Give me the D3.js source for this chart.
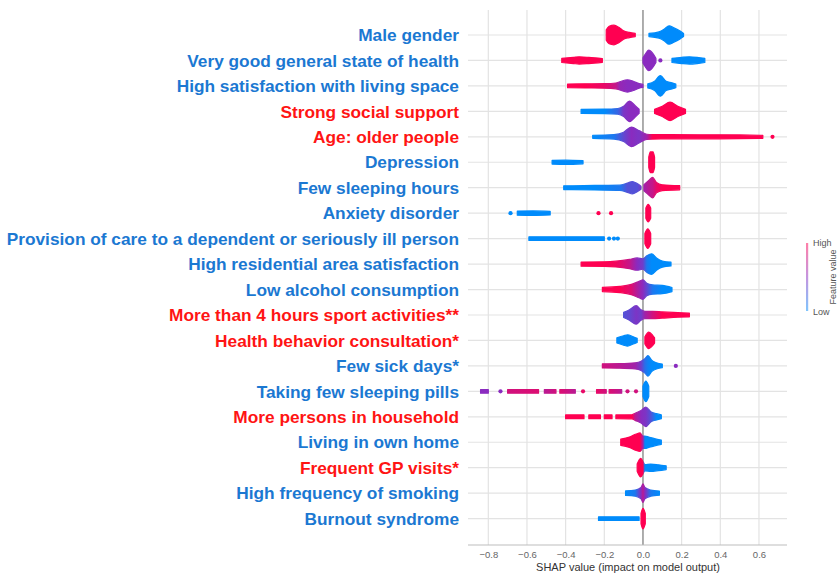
<!DOCTYPE html>
<html><head><meta charset="utf-8">
<script src="https://cdn.jsdelivr.net/npm/d3@7"></script>
<style>html,body{margin:0;padding:0;background:#fff;}</style>
</head><body>
<svg id="chart" width="837" height="576"></svg>
<script>
// ---------- DATA ----------
const features = [
  "Male gender","Very good general state of health","High satisfaction with living space",
  "Strong social support","Age: older people","Depression","Few sleeping hours","Anxiety disorder",
  "Provision of care to a dependent or seriously ill person","High residential area satisfaction",
  "Low alcohol consumption","More than 4 hours sport activities**","Health behavior consultation*",
  "Few sick days*","Taking few sleeping pills","More persons in household","Living in own home",
  "Frequent GP visits*","High frequency of smoking","Burnout syndrome"
];
// label group: "b" = blue label, "r" = red label
const labelGroup = ["b","b","b","r","r","b","b","b","b","b","b","r","r","b","b","r","b","r","b","b"];
const xTicks = [-0.8,-0.6,-0.4,-0.2,0.0,0.2,0.4,0.6];
const xDomain = [-0.905, 0.745];
// density profiles: per feature, list of clusters; knot = [SHAP value, relative density, feature value]
const swarms = [
  [[[-0.19,0.5,1],[-0.175,0.85,1],[-0.15,0.95,1],[-0.125,0.75,1],[-0.1,0.4,1],[-0.07,0.25,1],[-0.04,0.15,1]],
   [[0.031,0.15,0],[0.083,0.3,0],[0.109,0.55,0],[0.135,0.9,0],[0.16,0.7,0],[0.19,0.4,0],[0.21,0.15,0]]],
  [[[-0.42,0.2,1],[-0.36,0.3,1],[-0.33,0.35,1],[-0.28,0.3,1],[-0.21,0.18,1]],
   [[0.0,0.25,0.5],[0.015,0.7,0.5],[0.03,1,0.5],[0.05,0.7,0.5],[0.067,0.2,0.5]],
   [[0.15,0.2,0],[0.2,0.3,0],[0.24,0.35,0],[0.28,0.3,0],[0.32,0.2,0]]],
  [[[-0.39,0.18,1],[-0.3,0.2,1],[-0.2,0.22,0.9],[-0.14,0.28,0.75],[-0.12,0.4,0.55],[-0.08,0.6,0.5],[-0.05,0.45,0.5],[-0.02,0.22,0.5],[0.0,0.15,0.5]],
   [[0.025,0.2,0],[0.06,0.45,0],[0.09,1,0],[0.12,0.45,0],[0.15,0.3,0],[0.17,0.18,0]]],
  [[[-0.32,0.2,0],[-0.2,0.22,0],[-0.13,0.28,0.2],[-0.1,0.5,0.45],[-0.07,1.0,0.5],[-0.04,0.55,0.5],[-0.02,0.2,0.5]],
   [[0.06,0.2,1],[0.1,0.5,1],[0.14,0.9,1],[0.18,0.5,1],[0.22,0.2,1]]],
  [[[-0.26,0.15,0],[-0.15,0.22,0.1],[-0.1,0.45,0.35],[-0.06,0.95,0.5],[-0.02,0.6,0.45],[0.02,0.25,0.6],[0.05,0.22,1],[0.3,0.2,1],[0.5,0.18,1],[0.62,0.15,1]]],
  [[[-0.47,0.18,0],[-0.4,0.2,0],[-0.31,0.15,0]],
   [[0.03,0.5,1],[0.038,1,1],[0.052,1,1],[0.06,0.5,1]]],
  [[[-0.41,0.18,0],[-0.25,0.22,0],[-0.12,0.25,0.1],[-0.08,0.45,0.3],[-0.055,0.6,0.3],[-0.03,0.4,0.3],[-0.01,0.15,0.4]],
   [[0.005,0.3,0.6],[0.03,0.7,0.7],[0.05,1,0.75],[0.07,0.5,0.9],[0.1,0.28,1],[0.19,0.2,1]]],
  [[[-0.65,0.2,0],[-0.57,0.22,0],[-0.48,0.18,0]],
   [[0.015,0.5,1],[0.027,0.85,1],[0.04,0.5,1]]],
  [[[-0.59,0.18,0],[-0.45,0.18,0],[-0.3,0.18,0],[-0.2,0.18,0]],
   [[0.01,0.5,1],[0.025,0.95,1],[0.04,0.5,1]]],
  [[[-0.32,0.2,1],[-0.2,0.22,1],[-0.14,0.28,0.95],[-0.07,0.45,0.75],[-0.03,0.6,0.5],[0.0,0.5,0.4],[0.02,0.8,0.1],[0.045,1,0],[0.07,0.6,0],[0.1,0.3,0],[0.145,0.18,0]]],
  [[[-0.21,0.2,1],[-0.12,0.3,1],[-0.06,0.5,0.85],[-0.02,0.8,0.6],[0.0,0.95,0.5],[0.02,0.6,0.35],[0.05,0.45,0.1],[0.1,0.4,0],[0.15,0.2,0]]],
  [[[-0.1,0.25,0.3],[-0.07,0.5,0.35],[-0.035,0.9,0.45],[-0.01,0.5,0.4],[0.01,0.35,0.6],[0.05,0.35,0.8],[0.1,0.3,1],[0.18,0.22,1],[0.24,0.18,1]]],
  [[[-0.135,0.25,0],[-0.1,0.45,0],[-0.08,0.55,0],[-0.05,0.35,0],[-0.03,0.2,0]],
   [[0.01,0.35,1],[0.03,0.8,1],[0.05,0.5,1],[0.06,0.25,1]]],
  [[[-0.21,0.2,0.8],[-0.12,0.22,0.7],[-0.04,0.3,0.6],[-0.01,0.45,0.4],[0.01,0.7,0.15],[0.026,1,0.05],[0.045,0.55,0],[0.07,0.3,0],[0.1,0.18,0]]],
  [[[-0.84,0.18,0.5],[-0.80,0.18,0.5]],[[-0.70,0.18,0.8],[-0.54,0.18,0.85]],[[-0.51,0.18,0.7],[-0.45,0.18,0.8]],
   [[-0.43,0.18,0.85],[-0.35,0.18,0.7]],[[-0.24,0.18,0.9],[-0.19,0.18,0.8]],[[-0.175,0.18,0.85],[-0.11,0.18,0.7]],
   [[0.0,0.5,0],[0.015,1,0],[0.03,0.5,0]]],
  [[[-0.4,0.18,1],[-0.305,0.18,1]],[[-0.28,0.18,1],[-0.22,0.18,1]],[[-0.2,0.18,1],[-0.16,0.18,1]],
   [[-0.14,0.18,1],[-0.057,0.2,1],[-0.04,0.35,0.7],[-0.01,0.6,0.5],[0.015,0.95,0.45],[0.04,0.5,0.3],[0.07,0.3,0],[0.095,0.18,0]]],
  [[[-0.115,0.3,1],[-0.07,0.5,1],[-0.035,0.8,1],[-0.015,0.9,1],[0.0,0.6,0.6],[0.01,0.6,0],[0.03,0.5,0],[0.06,0.35,0],[0.095,0.2,0]]],
  [[[-0.03,0.35,1],[-0.012,0.9,1],[0.0,0.6,1],[0.01,0.3,0],[0.04,0.35,0],[0.08,0.28,0],[0.12,0.18,0]]],
  [[[-0.09,0.22,0],[-0.04,0.3,0.1],[-0.01,0.55,0.5],[0.0,0.9,0.7],[0.01,0.55,0.5],[0.04,0.3,0.1],[0.085,0.2,0]]],
  [[[-0.23,0.18,0],[-0.02,0.18,0]],
   [[-0.01,0.5,1],[0.0,1,1],[0.012,0.5,1]]]
];
// isolated points: [feature index, SHAP value, feature value]
const singles = [
  [1,0.09,0.5],[4,0.67,1],[7,-0.685,0],[7,-0.23,1],[7,-0.165,1],
  [8,-0.175,0],[8,-0.15,0],[8,-0.13,0],[13,0.17,0.5],
  [14,-0.737,0.5],[14,-0.31,0.9],[14,-0.08,0.8],[14,-0.036,0.8]
];

// ---------- DRAW ----------
const svg = d3.select("#chart");
const defs = svg.append("defs");
const plotL = 468, plotR = 787, plotT = 10, axisY = 545;
const x = d3.scaleLinear().domain(xDomain).range([plotL, plotR]);
const y = d3.scalePoint().domain(features).range([35, 518.6]);
const h = d3.scaleLinear().domain([0,1]).range([0,10.3]);
const cmap = d3.scaleLinear().domain([0,0.5,1]).range(["#008bfb","#8a2bbf","#ff0051"]).interpolate(d3.interpolateRgb);
const labelColor = {b:"#1b78d2", r:"#ff1414"};

// grid
svg.append("g").selectAll("line").data(xTicks).join("line")
  .attr("x1", d=>x(d)).attr("x2", d=>x(d)).attr("y1", plotT).attr("y2", axisY)
  .attr("stroke", d=> d===0 ? "#9a9a9a" : "#e3e3e3").attr("stroke-width", d=> d===0 ? 1.6 : 1.2);
svg.append("g").selectAll("line").data(features).join("line")
  .attr("x1", plotL).attr("x2", plotR).attr("y1", d=>y(d)).attr("y2", d=>y(d))
  .attr("stroke", "#e3e3e3").attr("stroke-width", 1.2);
svg.select("g").raise();

// axis
const axis = d3.axisBottom(x).tickValues(xTicks).tickSize(0).tickPadding(6)
  .tickFormat(d => d3.format(".1f")(d).replace("-", "\u2212"));
const ax = svg.append("g").attr("transform", `translate(0,${axisY})`).call(axis);
ax.select(".domain").attr("d", `M${plotL},0H${plotR}`).attr("stroke", "#bdbdbd").attr("stroke-width", 1.2);
ax.selectAll("text").attr("fill", "#666").attr("font-family", "Liberation Sans, Arial, sans-serif").attr("font-size", 9.5);
svg.append("text").attr("x", 628).attr("y", 571).attr("text-anchor", "middle")
  .attr("font-family", "Liberation Sans, Arial, sans-serif").attr("font-size", 11).attr("fill", "#333")
  .text("SHAP value (impact on model output)");

// labels
svg.append("g").selectAll("text").data(features).join("text")
  .attr("x", 459).attr("y", d=>y(d)).attr("dy", "0.36em").attr("text-anchor", "end")
  .attr("font-family", "Liberation Sans, Arial, sans-serif").attr("font-weight", "bold").attr("font-size", 17.3)
  .attr("fill", (d,i)=>labelColor[labelGroup[i]])
  .text(d=>d);

// swarms
const area = d3.area().curve(d3.curveMonotoneX)
  .x(k=>x(k[0]));
const gS = svg.append("g");
swarms.forEach((clusters, i) => {
  const yc = y(features[i]);
  clusters.forEach((cl, j) => {
    const id = `g${i}_${j}`;
    const x1 = x(cl[0][0]), x2 = x(cl[cl.length-1][0]);
    const lg = defs.append("linearGradient").attr("id", id).attr("gradientUnits","userSpaceOnUse")
      .attr("x1", x1).attr("x2", Math.max(x2, x1+0.01)).attr("y1", 0).attr("y2", 0);
    cl.forEach(k => lg.append("stop").attr("offset", x2>x1 ? (x(k[0])-x1)/(x2-x1) : 0).attr("stop-color", cmap(k[2])));
    area.y0(k=>yc - h(k[1])).y1(k=>yc + h(k[1]));
    gS.append("path").attr("d", area(cl)).attr("fill", `url(#${id})`)
      .attr("stroke", `url(#${id})`).attr("stroke-width", 1.2).attr("stroke-linejoin", "round");
  });
});
gS.selectAll("circle").data(singles).join("circle")
  .attr("cx", d=>x(d[1])).attr("cy", d=>y(features[d[0]])).attr("r", 2.1).attr("fill", d=>cmap(d[2]));

// colorbar
const cb = defs.append("linearGradient").attr("id","cbar").attr("x1",0).attr("x2",0).attr("y1",1).attr("y2",0);
[0,0.5,1].forEach(v => cb.append("stop").attr("offset", v).attr("stop-color", cmap(v)));
svg.append("rect").attr("x", 806).attr("y", 243).attr("width", 2.2).attr("height", 68)
  .attr("fill", "url(#cbar)").attr("opacity", 0.5);
const cbFont = {family:"Liberation Sans, Arial, sans-serif", size:9};
svg.append("text").attr("x", 813).attr("y", 246).attr("font-family", cbFont.family).attr("font-size", cbFont.size).attr("fill","#555").text("High");
svg.append("text").attr("x", 813).attr("y", 315).attr("font-family", cbFont.family).attr("font-size", cbFont.size).attr("fill","#555").text("Low");
svg.append("text").attr("transform", "translate(836,277) rotate(-90)").attr("text-anchor","middle")
  .attr("font-family", cbFont.family).attr("font-size", cbFont.size).attr("fill","#555").text("Feature value");
</script>
</body></html>
